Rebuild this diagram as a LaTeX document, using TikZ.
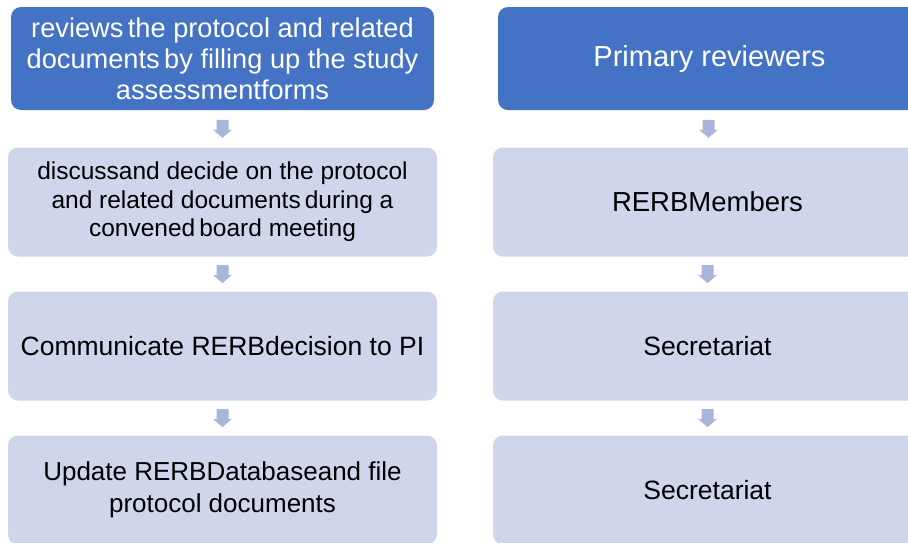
\documentclass[tikz,border=0pt]{standalone}
\usepackage{fontspec}
\setmainfont{Liberation Sans}
\usetikzlibrary{calc}
\definecolor{hdrblue}{HTML}{4472C4}
\definecolor{steplight}{HTML}{CFD5EA}
\definecolor{arrowfill}{HTML}{A9B5DA}
\tikzset{
  boxbase/.style={rounded corners=10pt, inner sep=0pt, align=center},
  hdrbox/.style={boxbase, fill=hdrblue, text=white, minimum width=423pt, minimum height=103pt,
    font=\fontsize{29}{31}\selectfont},
  stepbox/.style={boxbase, fill=steplight, text=black, minimum width=429pt, minimum height=109pt,
    font=\fontsize{26.5}{32}\selectfont},
  downarrow/.style={fill=arrowfill},
}
% block arrow pointing down, centred on a coordinate
\newcommand{\blockarrow}[1]{%
  \fill[downarrow] ($(#1)+(-6,9)$) -- ($(#1)+(6,9)$) -- ($(#1)+(6,-1)$) -- ($(#1)+(9.5,-1)$)
    -- ($(#1)+(0,-9)$) -- ($(#1)+(-9.5,-1)$) -- ($(#1)+(-6,-1)$) -- cycle;}
\begin{document}
\begin{tikzpicture}[x=1pt,y=1pt]
\useasboundingbox (0,0) rectangle (908,-542);
\begin{scope}
\clip (0,0) rectangle (908,-542);
% left column: tasks
\node[hdrbox, font=\fontsize{27.2}{31}\selectfont] (l1) at (222.5,-58.5) {reviews\,the protocol and related\\documents\,by filling up the study\\assessmentforms};
\node[stepbox, font=\fontsize{24.5}{28.5}\selectfont] (l2) at (222.5,-202) {discussand decide on the protocol\\and related documents\,during a\\convened\,board meeting};
\node[stepbox] (l3) at (222.5,-346) {Communicate RERBdecision to PI};
\node[stepbox, font=\fontsize{26}{32}\selectfont] (l4) at (222.5,-490) {Update RERBDatabaseand file\\protocol documents};
% right column: responsible parties
\node[hdrbox] (r1) at (709.5,-58.5) {Primary reviewers};
\node[stepbox, font=\fontsize{27.5}{32}\selectfont] (r2) at (707.5,-202) {RERBMembers};
\node[stepbox] (r3) at (707.5,-346) {Secretariat};
\node[stepbox] (r4) at (707.5,-490) {Secretariat};
% arrows between consecutive steps
\foreach \c in {l,r}{
  \foreach \a/\b in {1/2,2/3,3/4}{
    \coordinate (\c\a\b) at ($(\c\a.south)!0.5!(\c\b.north)$);
    \blockarrow{\c\a\b}
  }
}
\end{scope}
\end{tikzpicture}
\end{document}
